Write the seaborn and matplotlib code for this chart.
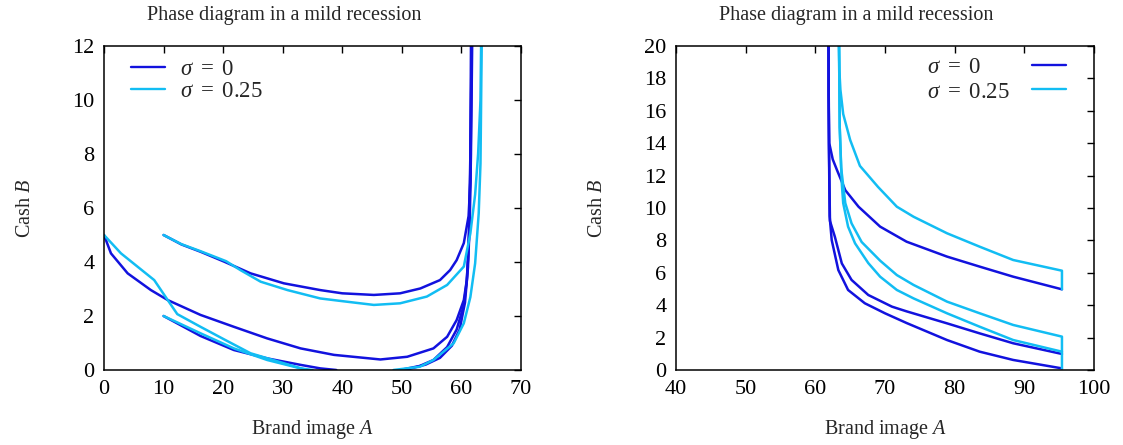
import matplotlib
matplotlib.use("Agg")
import matplotlib.pyplot as plt
from matplotlib.lines import Line2D
import pandas as pd
import seaborn as sns

# ---- trajectories in the (A, B) plane ----
sigma_labels = [r"$\sigma\ =\ 0$", r"$\sigma\ =\ 0.25$"]
palette = {sigma_labels[0]: "#1212de", sigma_labels[1]: "#12bdf3"}

# left panel, sigma = 0
left_s0_upper_A = [10, 13, 16.2, 20.2, 24.6, 30.2, 36.3, 40, 45.3, 49.7, 53.1, 56.4, 58.1, 59.2, 60.4, 61.2, 61.5, 61.6, 61.7]
left_s0_upper_B = [5.0, 4.65, 4.38, 4.01, 3.58, 3.21, 2.96, 2.84, 2.78, 2.84, 3.02, 3.33, 3.7, 4.07, 4.7, 5.7, 7.0, 9.0, 12.0]
left_s0_middle_A = [0, 1.17, 3.97, 7.87, 10.7, 16.2, 21.8, 27.4, 33, 38.6, 46.4, 50.9, 55.3, 57.6, 59.2, 60.4, 60.9, 61.1, 61.3, 61.5, 61.6]
left_s0_middle_B = [5.0, 4.32, 3.58, 2.96, 2.59, 2.04, 1.6, 1.17, 0.8, 0.56, 0.39, 0.49, 0.8, 1.23, 1.85, 2.59, 3.33, 4.07, 5.5, 8.0, 12.0]
left_s0_lower_A = [10, 16.2, 21.8, 27.4, 33, 36.3, 39]
left_s0_lower_B = [2.0, 1.26, 0.74, 0.43, 0.19, 0.06, 0.0]
left_s0_rise1_A = [49.7, 53, 55.3, 57.6, 59.2, 60.4, 60.9, 61.3, 61.5, 61.7]
left_s0_rise1_B = [0.0, 0.15, 0.37, 0.85, 1.5, 2.4, 3.3, 5.0, 7.5, 12.0]
left_s0_rise2_A = [50.5, 54, 56.4, 58.4, 59.7, 60.6, 61.1, 61.4, 61.6, 61.8]
left_s0_rise2_B = [0.0, 0.2, 0.45, 0.9, 1.5, 2.5, 3.8, 5.5, 8.0, 12.0]

# left panel, sigma = 0.25
left_s25_upper_A = [10, 13, 16.2, 20.5, 22.9, 26.3, 30.8, 36.3, 40, 45.3, 49.7, 54.2, 57.6, 60.4, 61.5, 62.3, 62.8, 63.2, 63.3]
left_s25_upper_B = [5.0, 4.66, 4.4, 4.03, 3.7, 3.27, 2.96, 2.65, 2.55, 2.41, 2.47, 2.72, 3.15, 3.83, 5.06, 6.5, 8.0, 10.0, 12.0]
left_s25_middle_A = [0, 2.85, 8.43, 10.7, 12.3, 16.2, 20.2, 24.6, 30.2, 34]
left_s25_middle_B = [5.0, 4.32, 3.33, 2.59, 2.07, 1.6, 1.13, 0.62, 0.25, 0.0]
left_s25_lower_A = [10, 16.2, 21.8, 27.4, 33, 35]
left_s25_lower_B = [2.0, 1.36, 0.8, 0.37, 0.06, 0.0]
left_s25_rise_A = [48.6, 53, 55.3, 58.7, 60.4, 61.5, 62.3, 62.9, 63.2, 63.4]
left_s25_rise_B = [0.0, 0.12, 0.37, 0.99, 1.73, 2.7, 3.95, 5.8, 7.65, 12.0]

# right panel, sigma = 0
right_s0_upper_A = [61.9, 61.9, 62.0, 62.5, 63.1, 64.3, 66.2, 69.3, 73.1, 78.9, 83.6, 88.4, 95.4]
right_s0_upper_B = [20.0, 17.0, 14.0, 13.0, 12.35, 11.1, 10.08, 8.85, 7.92, 7.0, 6.38, 5.76, 4.98]
right_s0_middle_A = [61.9, 61.95, 62.1, 62.8, 63.8, 65.2, 67.6, 71.0, 73.1, 78.9, 83.6, 88.4, 95.4]
right_s0_middle_B = [20.0, 14.0, 9.2, 8.23, 6.58, 5.56, 4.63, 3.91, 3.62, 2.88, 2.26, 1.65, 0.99]
right_s0_lower_A = [61.9, 61.95, 62.05, 62.35, 63.3, 64.7, 67.1, 70.0, 73.1, 78.9, 83.6, 88.4, 95.4]
right_s0_lower_B = [20.0, 14.0, 9.5, 8.02, 6.17, 4.94, 4.12, 3.5, 2.9, 1.85, 1.13, 0.62, 0.1]

# right panel, sigma = 0.25
right_s25_upper_A = [63.4, 63.45, 63.6, 64.0, 65.0, 66.4, 69.0, 71.7, 74.1, 78.9, 83.6, 88.4, 95.4, 95.4]
right_s25_upper_B = [20.0, 18.5, 17.3, 15.8, 14.2, 12.6, 11.3, 10.08, 9.46, 8.44, 7.61, 6.79, 6.13, 4.98]
right_s25_middle_A = [63.4, 63.5, 63.7, 64.3, 65.2, 66.65, 69.3, 71.7, 74.1, 78.9, 83.6, 88.4, 95.4, 95.4]
right_s25_middle_B = [20.0, 15.0, 12.5, 10.3, 9.05, 7.9, 6.75, 5.86, 5.25, 4.22, 3.5, 2.78, 2.06, 0.1]
right_s25_lower_A = [63.4, 63.5, 63.8, 64.0, 64.7, 65.7, 67.6, 69.3, 71.7, 74.1, 78.9, 83.6, 88.4, 95.4]
right_s25_lower_B = [20.0, 15.0, 11.5, 10.3, 8.85, 7.82, 6.6, 5.76, 4.94, 4.42, 3.5, 2.67, 1.85, 1.13]

left_curves = [
    (sigma_labels[0], left_s0_upper_A, left_s0_upper_B),
    (sigma_labels[0], left_s0_middle_A, left_s0_middle_B),
    (sigma_labels[0], left_s0_lower_A, left_s0_lower_B),
    (sigma_labels[0], left_s0_rise1_A, left_s0_rise1_B),
    (sigma_labels[0], left_s0_rise2_A, left_s0_rise2_B),
    (sigma_labels[1], left_s25_upper_A, left_s25_upper_B),
    (sigma_labels[1], left_s25_middle_A, left_s25_middle_B),
    (sigma_labels[1], left_s25_lower_A, left_s25_lower_B),
    (sigma_labels[1], left_s25_rise_A, left_s25_rise_B),
]
right_curves = [
    (sigma_labels[0], right_s0_upper_A, right_s0_upper_B),
    (sigma_labels[0], right_s0_middle_A, right_s0_middle_B),
    (sigma_labels[0], right_s0_lower_A, right_s0_lower_B),
    (sigma_labels[1], right_s25_upper_A, right_s25_upper_B),
    (sigma_labels[1], right_s25_middle_A, right_s25_middle_B),
    (sigma_labels[1], right_s25_lower_A, right_s25_lower_B),
]


def to_frame(curves):
    rows = []
    for cid, (sig, xs, ys) in enumerate(curves):
        for order, (a, b) in enumerate(zip(xs, ys)):
            rows.append({"curve": cid, "order": order, "sigma": sig, "A": a, "B": b})
    return pd.DataFrame(rows)


def key_entries(ax, line_x, text_x, rows_y):
    """Draw a gnuplot-style key: a short sample line and a label per series."""
    for label, y in zip(sigma_labels, rows_y):
        ax.add_line(Line2D(line_x, [y, y], transform=ax.transAxes,
                           color=palette[label], linewidth=1.7, clip_on=False))
        ax.text(text_x, y - 0.008, label, transform=ax.transAxes, fontsize=16.5,
                ha="left", va="center")


sns.set_style("white")
plt.rcParams["font.family"] = ["Liberation Serif", "DejaVu Serif"]
plt.rcParams["mathtext.fontset"] = "custom"
plt.rcParams["mathtext.rm"] = "Liberation Serif"
plt.rcParams["mathtext.it"] = "Liberation Serif:italic"

fig = plt.figure(figsize=(11.23, 4.45), dpi=100)
ax_l = fig.add_axes([104 / 1123, 1 - 370 / 445, 417 / 1123, 324 / 445])
ax_r = fig.add_axes([676 / 1123, 1 - 370 / 445, 418 / 1123, 324 / 445])

panels = [
    (ax_l, left_curves, (0, 70), range(0, 71, 10), (0, 12), range(0, 13, 2)),
    (ax_r, right_curves, (40, 100), range(40, 101, 10), (0, 20), range(0, 21, 2)),
]

for ax, curves, xlim, xticks, ylim, yticks in panels:
    df = to_frame(curves)
    sns.lineplot(data=df, x="A", y="B", hue="sigma", units="curve",
                 estimator=None, sort=False, palette=palette,
                 linewidth=1.8, legend=False, ax=ax)
    ax.set_xlim(*xlim)
    ax.set_ylim(*ylim)
    ax.set_xticks(list(xticks))
    ax.set_yticks(list(yticks))
    ax.tick_params(direction="in", top=True, right=True, length=5, width=1,
                   labelsize=16, pad=7, colors="black")
    for sp in ax.spines.values():
        sp.set_color("black")
        sp.set_linewidth(1.1)
    ax.set_title("Phase diagram in a mild recession", fontsize=14.5, pad=19, x=0.432)
    ax.set_xlabel(r"Brand image $A$", fontsize=14.5, labelpad=14)
    ax.set_ylabel(r"Cash $B$", fontsize=14.5, labelpad=27)

# keys: sample line left of the label on the left panel, right of it on the right panel
key_entries(ax_l, [0.065, 0.146], 0.182, [0.936, 0.868])
key_entries(ax_r, [0.852, 0.933], 0.600, [0.942, 0.866])

fig.savefig("out.png", dpi=100)
